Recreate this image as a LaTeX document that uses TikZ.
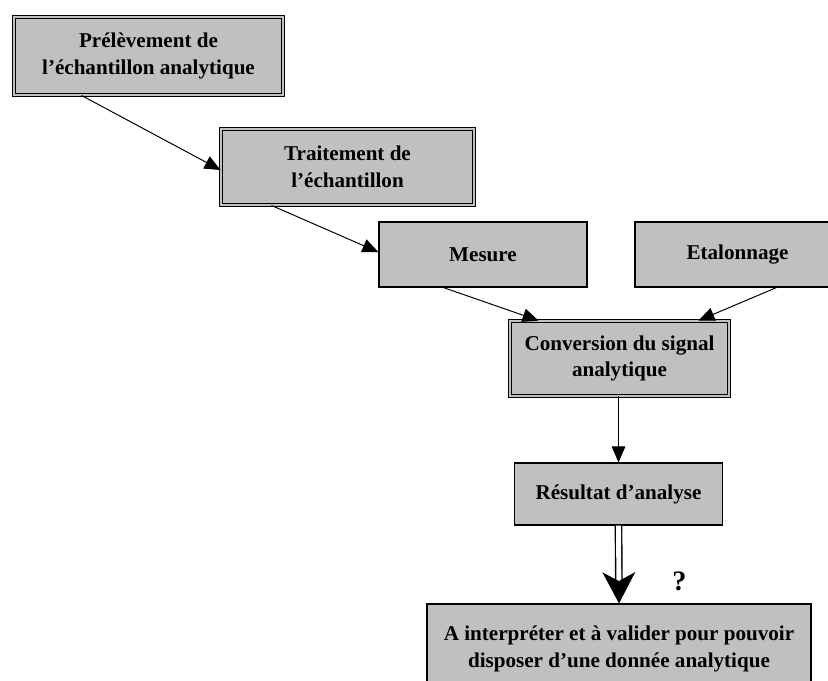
\documentclass[tikz,border=0pt]{standalone}
\usepackage{fontspec}
\setmainfont{Liberation Serif}
\usetikzlibrary{arrows.meta}
\definecolor{boxgray}{RGB}{192,192,192}

\begin{document}
\begin{tikzpicture}[x=0.025cm, y=-0.025cm,
    plainbox/.style={draw, line width=0.8pt, fill=boxgray, align=center,
        font=\bfseries\fontsize{15}{19}\selectfont, inner sep=0pt},
    dblbox/.style={plainbox, double=boxgray, double distance=1.6pt, line width=0.7pt},
    flow/.style={line width=0.7pt, -{Triangle[length=0.4cm, width=0.34cm]}}]
\useasboundingbox (0,0) rectangle (828,680);
\node[dblbox, minimum width=6.72cm, minimum height=1.95cm] (prel) at (148.5,56) {Prélèvement de\\l’échantillon analytique};
\node[dblbox, minimum width=6.32cm, minimum height=1.9cm] (trait) at (347.5,167) {Traitement de\\l’échantillon};
\node[plainbox, minimum width=5.2cm, minimum height=1.625cm] (mes) at (483,254.5) {Mesure};
\node[plainbox, minimum width=5.125cm, minimum height=1.625cm] (etal) at (737.5,254.5) {Etalonnage};
\node[dblbox, minimum width=5.47cm, minimum height=1.87cm] (conv) at (619.5,358.5) {Conversion du signal\\analytique};
\node[plainbox, minimum width=5.2cm, minimum height=1.55cm] (res) at (618.5,494) {Résultat d’analyse};
\node[plainbox, minimum width=9.6cm, minimum height=2.25cm] (interp) at (619,649) {A interpréter et à valider pour pouvoir\\disposer d’une donnée analytique};
\node[font=\bfseries\fontsize{20}{24}\selectfont] (quest) at (679.5,581) {?};

\draw[flow] ([xshift=1.7cm]prel.south west) -- ([yshift=-0.075cm]trait.west);
\draw[flow] ([xshift=1.275cm]trait.south west) -- ([yshift=0.06cm]mes.west);
\draw[flow] ([xshift=1.625cm]mes.south west) -- ([xshift=0.725cm]conv.north west);
\draw[flow] ([xshift=3.55cm]etal.south west) -- ([xshift=-0.775cm]conv.north east);
\draw[flow] (conv.south -| res.north) -- (res.north);
\draw[double, double distance=3.5pt, line width=1pt,
    -{Stealth[length=0.78cm, width=0.82cm, inset=0.22cm]}] (res.south) -- (interp.north);
\end{tikzpicture}
\end{document}
